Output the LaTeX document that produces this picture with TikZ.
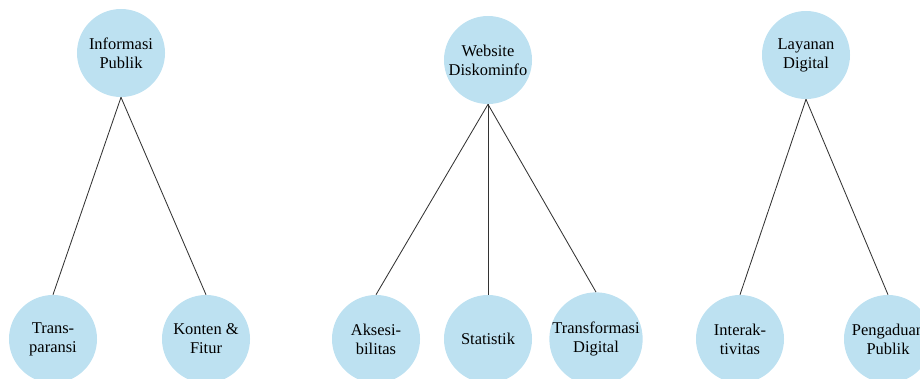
\documentclass[tikz,border=0pt]{standalone}
\usepackage{fontspec}
\setmainfont{Liberation Serif}
\usetikzlibrary{positioning,calc}

\definecolor{bubble}{RGB}{189,225,241}

\tikzset{
  topic/.style={circle, fill=bubble, minimum size=2.2cm, inner sep=0pt, align=center,
    font=\fontsize{11.7}{13.5}\selectfont},
  link/.style={line width=0.6pt, black!80}
}

\begin{document}
\begin{tikzpicture}[x=0.025cm, y=0.025cm]
  % \draw[step=1cm, gray!20!white, very thin] (0,0) grid (23,9.45);
  \useasboundingbox (0,0) rectangle (920,378);

  \node[topic] at (121, 325) (t_1) {Informasi\\Publik};
  \node[topic] at (488, 318) (t_2) {Website\\Diskominfo};
  \node[topic] at (806, 323) (t_3) {Layanan\\Digital};

  \node[topic] at (53, 39)  (b_1) {Trans-\\paransi};
  \node[topic] at (206, 39) (b_2) {Konten \&\\Fitur};
  \node[topic] at (376, 39) (b_3) {Aksesi-\\bilitas};
  \node[topic] at (488, 39) (b_4) {Statistik};
  \node[topic] at (596, 39) (b_5) {Transformasi\\Digital};
  \node[topic] at (740, 39) (b_6) {Interak-\\tivitas};
  \node[topic] at (888, 39) (b_7) {Pengaduan\\Publik};

  \draw [link] (t_1.south) edge (b_1.north);
  \draw [link] (t_1.south) edge (b_2.north);
  \draw [link] (t_2.south) edge (b_3.north);
  \draw [link] (t_2.south) edge (b_4.north);
  \draw [link] (t_2.south) edge (b_5.north);
  \draw [link] (t_3.south) edge (b_6.north);
  \draw [link] (t_3.south) edge (b_7.north);

\end{tikzpicture}
\end{document}
